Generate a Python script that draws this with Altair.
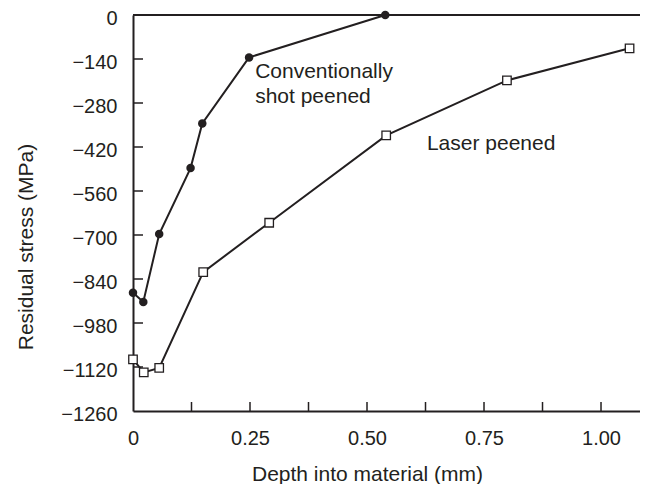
import altair as alt
import pandas as pd

# ---- data ----
shot_depth = [0.0, 0.022, 0.056, 0.123, 0.148, 0.248, 0.539]
shot_stress = [-884, -913, -697, -487, -345, -135, 0]

laser_depth = [0.0, 0.023, 0.056, 0.150, 0.291, 0.541, 0.799, 1.061]
laser_stress = [-1096, -1137, -1123, -818, -661, -383, -208, -106]

x_label_values = [0, 0.25, 0.5, 0.75, 1.0]
x_tick_values = [0.125, 0.25, 0.375, 0.5, 0.625, 0.75, 0.875, 1.0]
y_tick_values = [0, -140, -280, -420, -560, -700, -840, -980, -1120, -1260]

note_text = ["Conventionally", "shot peened", "Laser peened"]
note_depth = [0.261, 0.261, 0.628]
note_stress = [-200, -280, -430]

# ---- styling ----
INK = "#231f20"
FONT = "Liberation Sans"
W, H = 507, 396
X_MAX = 1.0833

xscale = alt.Scale(domain=[0, X_MAX], nice=False, zero=False)
yscale = alt.Scale(domain=[-1260, 0], nice=False, zero=False)

xaxis = alt.Axis(
    values=x_label_values,
    labelExpr="datum.value == 0 ? '0' : format(datum.value, '.2f')",
    title="Depth into material (mm)",
    ticks=False, tickSize=0, grid=False, labelFlush=False,
    labelPadding=17,
    titleX=234, titleY=69, titleAlign="center", titleBaseline="alphabetic",
)
yaxis = alt.Axis(
    values=y_tick_values,
    format="d",
    title="Residual stress (MPa)",
    ticks=False, tickSize=0, grid=False, labelFlush=False,
    labelPadding=16, labelBaseline="middle", labelOffset=3,
    titleX=-101, titleY=231.5, titleAlign="center", titleBaseline="alphabetic",
    titleAngle=270,
)

def X(field="depth"):
    return alt.X(f"{field}:Q", scale=xscale, axis=xaxis)

def Y(field="stress"):
    return alt.Y(f"{field}:Q", scale=yscale, axis=yaxis)

shot_df = pd.DataFrame({"depth": shot_depth, "stress": shot_stress, "series": "shot"})
laser_df = pd.DataFrame({"depth": laser_depth, "stress": laser_stress, "series": "laser"})
lines_df = pd.concat([shot_df, laser_df], ignore_index=True)

lines = alt.Chart(lines_df).mark_line(color=INK, strokeWidth=2).encode(
    x=X(), y=Y(), detail="series:N"
)
shot_pts = alt.Chart(shot_df).mark_point(
    shape="circle", filled=True, color=INK, size=72, opacity=1
).encode(x=X(), y=Y())
laser_pts = alt.Chart(laser_df).mark_point(
    shape="square", filled=True, fill="white", stroke=INK, strokeWidth=1.3, size=72, opacity=1
).encode(x=X(), y=Y())

top_line = alt.Chart(pd.DataFrame({"stress": [0]})).mark_rule(
    color=INK, strokeWidth=2
).encode(y=Y(), x=alt.value(0), x2=alt.value(W))

xticks = alt.Chart(pd.DataFrame({"depth": x_tick_values})).mark_rule(
    color=INK, strokeWidth=1.5
).encode(x=X(), y=alt.value(H), y2=alt.value(H - 9))

yticks = alt.Chart(pd.DataFrame({"stress": y_tick_values[1:-1]})).mark_rule(
    color=INK, strokeWidth=1.5
).encode(y=Y(), x=alt.value(0), x2=alt.value(10))

notes = alt.Chart(
    pd.DataFrame({"depth": note_depth, "stress": note_stress, "text": note_text})
).mark_text(
    align="left", baseline="alphabetic", font=FONT, fontSize=21, color=INK
).encode(x=X(), y=Y(), text="text:N")

chart = alt.layer(top_line, xticks, yticks, lines, shot_pts, laser_pts, notes).properties(
    width=W, height=H,
    autosize=alt.AutoSizeParams(type="none"),
    padding={"left": 125, "top": 7, "right": 0, "bottom": 73},
).configure_view(stroke=None).configure_axis(
    domainColor=INK, domainWidth=2,
    labelFont=FONT, labelFontSize=20, labelColor=INK,
    titleFont=FONT, titleFontSize=21, titleFontWeight="normal", titleColor=INK,
)

chart.save("out.html", embed_options={"renderer": "svg", "actions": False})
